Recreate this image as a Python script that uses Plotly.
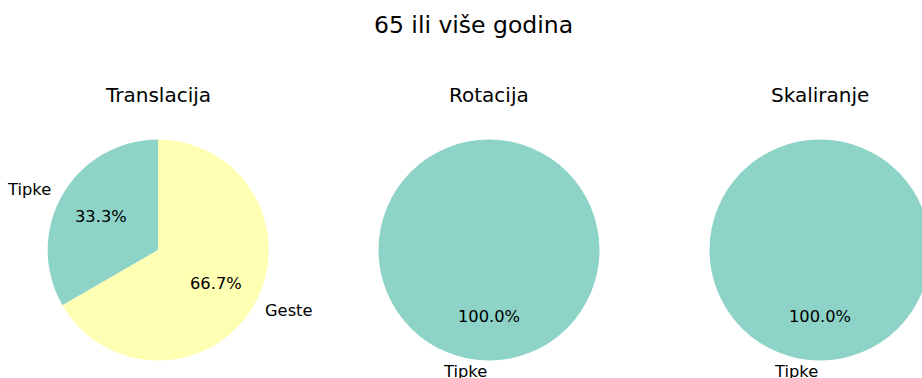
import math
import plotly.graph_objects as go

# ---- data ----
suptitle = "65 ili više godina"
subplot_titles = ["Translacija", "Rotacija", "Skaliranje"]
labels = ["Tipke", "Geste"]
translacija = [1, 2]
rotacija = [3, 0]
skaliranje = [3, 0]
colors = ["#8dd3c7", "#ffffb3"]

series = [translacija, rotacija, skaliranje]

# ---- layout constants (pixels) ----
W, H = 940, 378
centers_x = [158.2, 489.0, 820.0]
center_y = 250.0
R = 110.5
FONT = "DejaVu Sans"


def px(x):
    return x / W


def py(y):
    return 1 - y / H


fig = go.Figure()
annotations = []

for i, (vals, title, cx) in enumerate(zip(series, subplot_titles, centers_x)):
    total = sum(vals)
    # Plotly places the first slice clockwise of 12 o'clock; shift it so that
    # slices run counterclockwise starting at 12 o'clock (matplotlib startangle=90)
    rot = -360.0 * vals[0] / total
    fig.add_trace(go.Pie(
        labels=labels,
        values=vals,
        sort=False,
        direction="counterclockwise",
        rotation=rot,
        marker=dict(colors=colors, line=dict(width=0)),
        textinfo="none",
        hoverinfo="label+percent",
        showlegend=False,
        domain=dict(x=[px(cx - R), px(cx + R)], y=[py(center_y + R), py(center_y - R)]),
    ))
    start = 90.0
    for lab, v in zip(labels, vals):
        if v == 0:
            continue
        span = 360.0 * v / total
        mid = math.radians(start + span / 2)
        start += span
        c, s = math.cos(mid), math.sin(mid)
        # outer label at 1.1 R
        annotations.append(dict(
            x=px(cx + 1.1 * R * c), y=py(center_y - 1.1 * R * s),
            xref="paper", yref="paper", text=lab, showarrow=False,
            xanchor="left" if c > 0 else "right", yanchor="middle",
            font=dict(family=FONT, size=16.3, color="black"),
        ))
        # percentage at 0.6 R
        annotations.append(dict(
            x=px(cx + 0.6 * R * c), y=py(center_y - 0.6 * R * s),
            xref="paper", yref="paper", text=f"{100.0 * v / total:.1f}%", showarrow=False,
            xanchor="center", yanchor="middle",
            font=dict(family=FONT, size=16.3, color="black"),
        ))
    annotations.append(dict(
        x=px(cx), y=py(95), xref="paper", yref="paper", text=title, showarrow=False,
        xanchor="center", yanchor="middle",
        font=dict(family=FONT, size=20, color="black"),
    ))

annotations.append(dict(
    x=px(473.5), y=py(25), xref="paper", yref="paper", text=suptitle, showarrow=False,
    xanchor="center", yanchor="middle",
    font=dict(family=FONT, size=23.5, color="black"),
))

fig.update_layout(
    width=W, height=H,
    margin=dict(l=0, r=0, t=0, b=0),
    paper_bgcolor="white", plot_bgcolor="white",
    annotations=annotations,
    font=dict(family=FONT),
)

fig.write_html(
    "out.html",
    config={"displayModeBar": False},
    post_script="document.documentElement.style.overflow='hidden';document.body.style.overflow='hidden';document.body.style.margin='0';",
)
